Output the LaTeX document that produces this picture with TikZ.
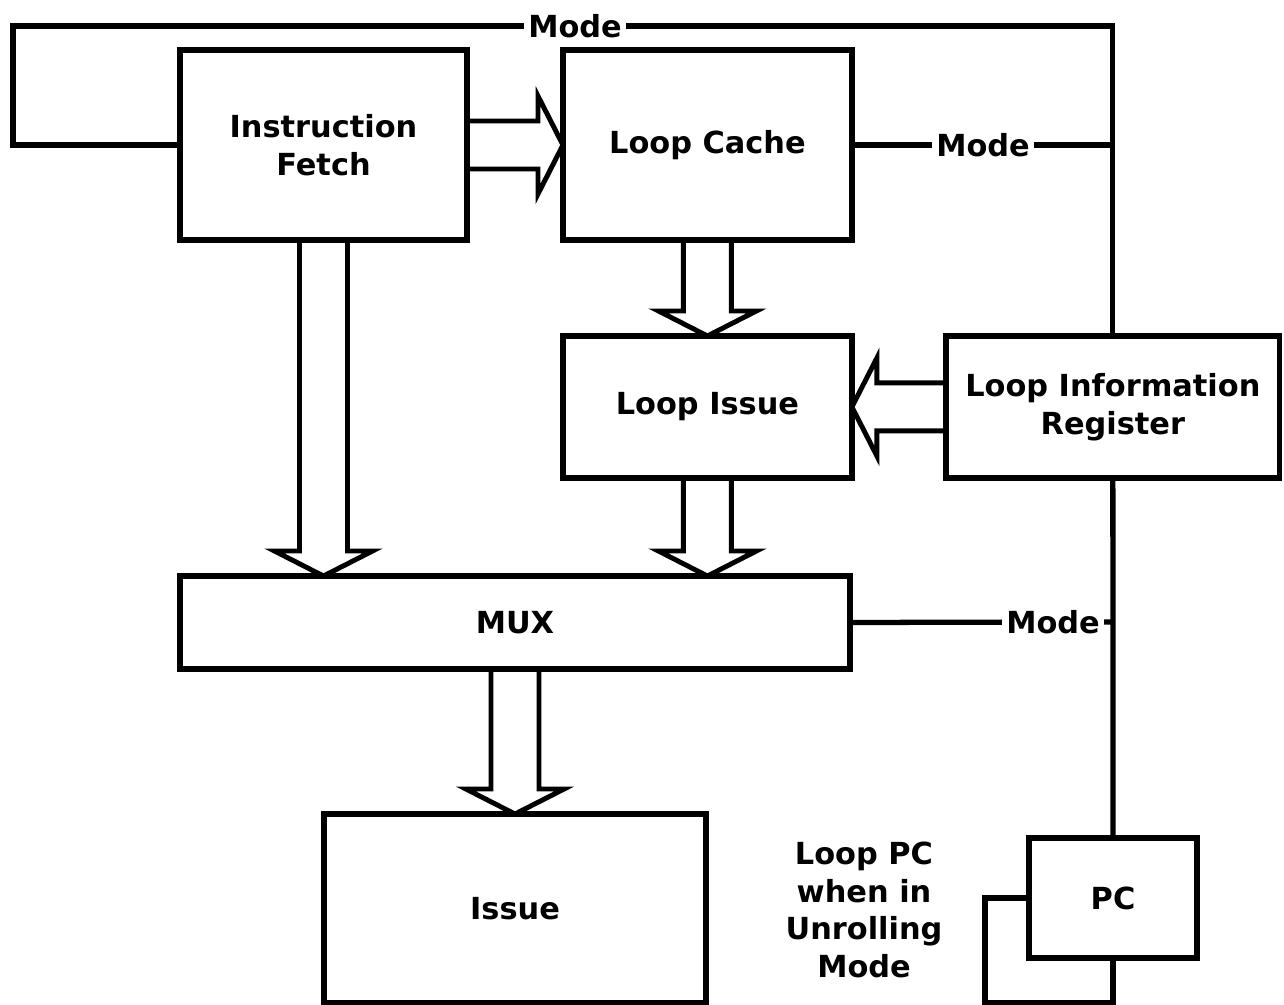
\documentclass[tikz,border=0pt]{standalone}
\usepackage{fontspec}
\setmainfont{DejaVu Sans}
\usepackage{tikz}
\usetikzlibrary{positioning,calc}

% hollow block arrow from #1 to #2 (tip on #2)
\newcommand{\fatarrow}[2]{%
  \path (#1) coordinate (fa-s) (#2) coordinate (fa-t);
  \path ($(fa-t)!0.5cm!(fa-s)$) coordinate (fa-h);
  \draw[fat] ($(fa-s)!0.48cm!90:(fa-t)$) -- ($(fa-h)!0.48cm!90:(fa-t)$)
    -- ($(fa-h)!0.98cm!90:(fa-t)$) -- (fa-t) -- ($(fa-h)!0.98cm!-90:(fa-t)$)
    -- ($(fa-h)!0.48cm!-90:(fa-t)$) -- ($(fa-s)!0.48cm!-90:(fa-t)$);}

\begin{document}
\begin{tikzpicture}[x=0.02cm,y=-0.02cm,font=\bfseries\fontsize{17.3}{21.5}\selectfont,line width=3pt]
        \tikzstyle{blk}=[draw,line width=3pt,align=center,inner sep=0pt,outer sep=0pt]
        \tikzstyle{lbl}=[fill=white,inner sep=1pt]
        \tikzstyle{fat}=[line width=2.8pt,miter limit=20]
        \useasboundingbox (0,0) rectangle (1284,1004);
        \node[blk,minimum width=5.74cm,minimum height=3.8cm] (fetch) at (323.5,145) {Instruction\\Fetch};
        \node[blk,minimum width=5.78cm,minimum height=3.8cm,right=1.92cm of fetch] (lcache) {Loop Cache};
        \node[blk,minimum width=5.78cm,minimum height=2.84cm,below=1.92cm of lcache] (lissue) {Loop Issue};
        \node[blk,minimum width=6.68cm,minimum height=2.84cm,right=1.88cm of lissue] (lir) {Loop Information\\Register};
        \node[blk,minimum width=13.4cm,minimum height=1.86cm] (mux) at (515,622.5) {MUX};
        \node[blk,minimum width=7.64cm,minimum height=3.78cm] (issue) at (515,908.5) {Issue};
        \node[blk,minimum width=3.36cm,minimum height=2.4cm] (pc) at (1113,898) {PC};
        \node[align=center] (note) at (864,910) {Loop PC\\when in\\Unrolling\\Mode};
        % mode labels
        \node[lbl] (mA) at (575,26) {Mode};
        \node[lbl] (mB) at (983,145) {Mode};
        \node[lbl] (mC) at (1053,622) {Mode};
        \coordinate (tl) at (13,26);
        \coordinate (pcloop) at (985,1003);
        % control lines
        \draw (fetch.west) -| (tl) -- (mA);
        \draw (mA) -- (mA -| lir.north) -- (lir.north);
        \draw (lcache.east) -- (mB) -- (mB -| lir.north);
        \draw (mux.east) -- (mC) -- (mC -| lir.north);
        \draw (lir.south) -- (pc.north);
        \draw (pc.west) -| (pcloop) -| (pc.south);
        % data paths
        \fatarrow{fetch.east}{lcache.west}
        \fatarrow{lcache.south}{lissue.north}
        \fatarrow{lir.west}{lissue.east}
        \fatarrow{fetch.south}{fetch.south |- mux.north}
        \fatarrow{lissue.south}{lissue.south |- mux.north}
        \fatarrow{mux.south}{issue.north}
      \end{tikzpicture}
\end{document}
